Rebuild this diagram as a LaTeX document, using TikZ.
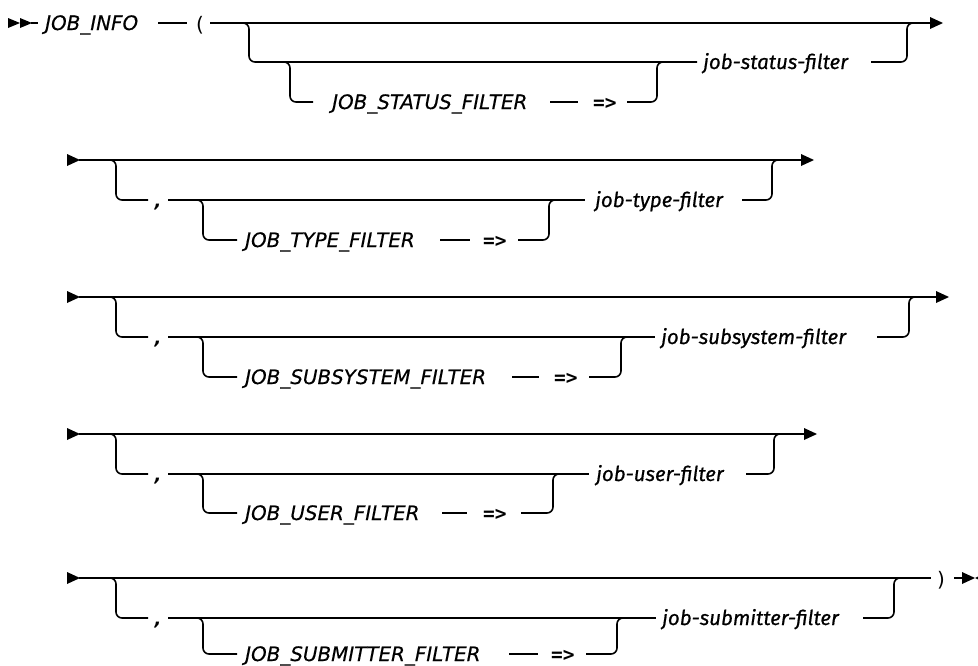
\documentclass[tikz,border=0pt]{standalone}
\usepackage{fontspec}
\newfontfamily\kwfamily[ItalicFeatures={FakeBold=0.3}]{DejaVu Sans}
\newfontfamily\opfamily{DejaVu Sans Mono}
\newfontfamily\varfamily[ItalicFeatures={FakeBold=0.6}]{Fira Sans}
\begin{document}
\begin{tikzpicture}[x=1pt,y=-1pt,
  rail/.style={line width=1.6pt, rounded corners=6pt},
  txt/.style={inner sep=0pt, anchor=west, text height=14pt, text depth=0pt},
  kw/.style={txt, font=\kwfamily\itshape\fontsize{19.9}{21}\selectfont},
  var/.style={txt, font=\varfamily\itshape\fontsize{20.5}{22}\selectfont},
  op/.style={txt, font=\opfamily\bfseries\fontsize{19.5}{20}\selectfont},
  sym/.style={txt, anchor=center, font=\kwfamily\fontsize{20}{21}\selectfont},
  comma/.style={txt, anchor=center, font=\kwfamily\bfseries\itshape\fontsize{18}{20}\selectfont},
  tip/.style={fill=black, draw=none}]
\useasboundingbox (0,0) rectangle (978,665);

% ---------- Row 1 ----------
\fill[tip] (8,18) -- (20,23) -- (8,28) -- cycle;
\fill[tip] (20,18) -- (32,23) -- (20,28) -- cycle;
\draw[rail] (31,23) -- (38,23);
\node[kw] (jobinfo) at (45,23) {JOB\_INFO};
\draw[rail] (158,23) -- (187,23);
\node[sym] (lp) at (200,24) {(};
\draw[rail] (210,23) -- (931,23);
\fill[tip] (930,17) -- (943,23) -- (930,29) -- cycle;
\draw[rail] (238,23) -- (249,23) -- (249,62) -- (697,62);
\node[var] (v1) at (703,62) {job-status-filter};
\draw[rail] (871,62) -- (907,62) -- (907,23) -- (918,23);
\draw[rail] (280,62) -- (290,62) -- (290,102) -- (313,102);
\node[kw] (k1) at (332,102) {JOB\_STATUS\_FILTER};
\draw[rail] (550,102) -- (578,102);
\node[op] (a1) at (593,102) {=>};
\draw[rail] (627,102) -- (657,102) -- (657,62) -- (667,62);

% ---------- Row 2 ----------
\fill[tip] (67,154) -- (80,160) -- (67,166) -- cycle;
\draw[rail] (79,160) -- (802,160);
\fill[tip] (801,154) -- (814,160) -- (801,166) -- cycle;
\draw[rail] (106,160) -- (116,160) -- (116,200) -- (148,200);
\node[comma] (c2) at (158,200) {,};
\draw[rail] (168,200) -- (585,200);
\node[var] (v2) at (595,200) {job-type-filter};
\draw[rail] (742,200) -- (772,200) -- (772,160) -- (782,160);
\draw[rail] (193,200) -- (203,200) -- (203,240) -- (237,240);
\node[kw] (k2) at (245,240) {JOB\_TYPE\_FILTER};
\draw[rail] (440,240) -- (470,240);
\node[op] (a2) at (483,240) {=>};
\draw[rail] (518,240) -- (549,240) -- (549,200) -- (559,200);

% ---------- Row 3 ----------
\fill[tip] (67,291) -- (80,297) -- (67,303) -- cycle;
\draw[rail] (79,297) -- (937,297);
\fill[tip] (936,291) -- (949,297) -- (936,303) -- cycle;
\draw[rail] (106,297) -- (116,297) -- (116,337) -- (148,337);
\node[comma] (c3) at (158,337) {,};
\draw[rail] (168,337) -- (655,337);
\node[var] (v3) at (661,337) {job-subsystem-filter};
\draw[rail] (877,337) -- (909,337) -- (909,297) -- (919,297);
\draw[rail] (193,337) -- (203,337) -- (203,377) -- (237,377);
\node[kw] (k3) at (245,377) {JOB\_SUBSYSTEM\_FILTER};
\draw[rail] (512,377) -- (539,377);
\node[op] (a3) at (554,377) {=>};
\draw[rail] (589,377) -- (621,377) -- (621,337) -- (631,337);

% ---------- Row 4 ----------
\fill[tip] (67,428) -- (80,434) -- (67,440) -- cycle;
\draw[rail] (79,434) -- (805,434);
\fill[tip] (804,428) -- (817,434) -- (804,440) -- cycle;
\draw[rail] (106,434) -- (116,434) -- (116,474) -- (148,474);
\node[comma] (c4) at (158,474) {,};
\draw[rail] (168,474) -- (589,474);
\node[var] (v4) at (596,474) {job-user-filter};
\draw[rail] (746,474) -- (774,474) -- (774,434) -- (784,434);
\draw[rail] (193,474) -- (203,474) -- (203,513) -- (237,513);
\node[kw] (k4) at (245,513) {JOB\_USER\_FILTER};
\draw[rail] (442,513) -- (467,513);
\node[op] (a4) at (483,513) {=>};
\draw[rail] (521,513) -- (553,513) -- (553,474) -- (563,474);

% ---------- Row 5 ----------
\fill[tip] (67,572) -- (80,578) -- (67,584) -- cycle;
\draw[rail] (79,578) -- (931,578);
\node[sym] (rp) at (941,579) {)};
\draw[rail] (954,578) -- (963,578);
\fill[tip] (962,572) -- (975,578) -- (962,584) -- cycle;
\fill[tip] (988,572) -- (975,578) -- (988,584) -- cycle;
\draw[rail] (106,578) -- (116,578) -- (116,618) -- (148,618);
\node[comma] (c5) at (158,618) {,};
\draw[rail] (168,618) -- (656,618);
\node[var] (v5) at (662,618) {job-submitter-filter};
\draw[rail] (863,618) -- (894,618) -- (894,578) -- (904,578);
\draw[rail] (193,618) -- (203,618) -- (203,654) -- (237,654);
\node[kw] (k5) at (245,654) {JOB\_SUBMITTER\_FILTER};
\draw[rail] (509,654) -- (538,654);
\node[op] (a5) at (551,654) {=>};
\draw[rail] (586,654) -- (617,654) -- (617,618) -- (627,618);
\end{tikzpicture}
\end{document}
